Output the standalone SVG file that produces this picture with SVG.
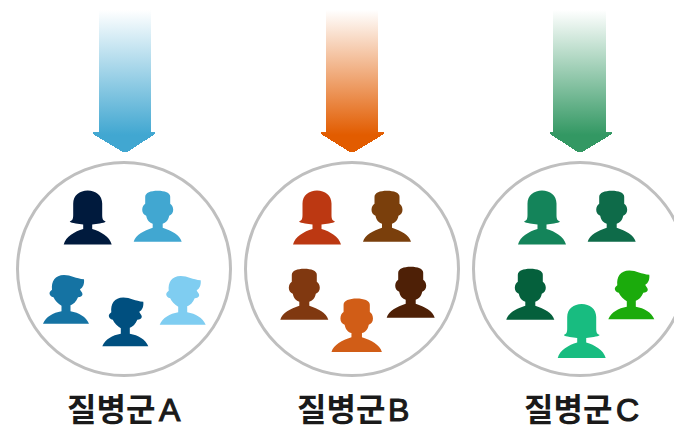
<svg xmlns="http://www.w3.org/2000/svg" width="674" height="428" viewBox="0 0 674 428">
<style>
.ring{fill:#fff;stroke:#bfbfbf;stroke-width:3}
.lbl{font-family:"Liberation Sans","Noto Sans CJK KR",sans-serif;fill:#1a1a1a;font-size:32px}
.ko{font-weight:700}
.la{stroke:#1a1a1a;stroke-width:1.100px}
.arw{shape-rendering:crispEdges}
</style>
<defs>
<linearGradient id="ga" x1="0" y1="0" x2="0" y2="1"><stop offset="0" stop-color="#fff"/><stop offset=".88" stop-color="#41a7d1"/></linearGradient>
<linearGradient id="gb" x1="0" y1="0" x2="0" y2="1"><stop offset="0" stop-color="#fff"/><stop offset=".88" stop-color="#e25c00"/></linearGradient>
<linearGradient id="gc" x1="0" y1="0" x2="0" y2="1"><stop offset="0" stop-color="#fff"/><stop offset=".88" stop-color="#339863"/></linearGradient>
<path id="woman" d="M-24 0C-22-8-13-13-4.500-15.500L-4.500-20L-12-21C-15-21.500-17-22-18-23C-15-24-14.500-26-14.500-30L-14.500-41C-14.500-49-8-54 0-54C8-54 14.500-49 14.500-41L14.500-30C14.500-26 15-24 18-23C17-22 15-21.500 12-21L4.500-20L4.500-15.500C13-13 22-8 24 0Z"/>
<path id="man" d="M-24 0C-22-7-14-11-5-14L-5-18C-8-19-10.500-21-11.500-26C-14-27-15.500-29-15.500-32C-15.500-35-14-37-12.500-38L-12.500-45C-12.500-49-7-51 0-51C7-51 12.500-49 12.500-45L12.500-38C14-37 15.500-35 15.500-32C15.500-29 14-27 11.500-26C10.500-21 8-19 5-18L5-14C14-11 22-7 24 0Z"/>
<path id="boy" d="M-23 0C-20-7-13-11-4.500-12.500L-4.500-18C-8-20-11-23-12.500-26.500C-15-27-16.500-29-16.500-30.500C-16.500-32-15-33-14-34C-15-42-11-48.700-2-48.700C5-48.700 10-45 18-44.500C18.500-40 17-36 14-34.500C14-33 16.500-32 16.500-29.500C16.500-27.500 14-26.500 12-26.500C10-22 8-20 4.500-18.500L4.500-12.500C13-11 20-7 23 0Z"/>
</defs>
<g id="connectors" class="arw">
<path d="M99 10H151V132H155V134L128 151.500Q125 152.500 122 151.500L93 134V132H99Z" fill="url(#ga)"/>
<path d="M326 10H378V132H384V134L355 151.500Q352 152.500 349 151.500L321 134V132H326Z" fill="url(#gb)"/>
<path d="M553 10H606V132H612V134L583 151.500Q580 152.500 577 151.500L550 134V132H553Z" fill="url(#gc)"/>
</g>
<g id="group-a">
<circle class="ring" cx="124" cy="269" r="106.500"/>
<use href="#woman" transform="translate(87.700 244.500)" fill="#001a3d"/>
<use href="#man" transform="translate(157.700 241.800)" fill="#41a7d1"/>
<use href="#boy" transform="translate(66 323.800)" fill="#1573a3"/>
<use href="#boy" transform="translate(125.300 346.200)" fill="#004f7f"/>
<use href="#boy" transform="translate(182.700 324.800)" fill="#7fcdf1"/>
<text class="lbl" y="421"><tspan class="ko" x="67">질병군</tspan> <tspan class="la" x="159">A</tspan></text>
</g>
<g id="group-b">
<circle class="ring" cx="352" cy="269" r="106.500"/>
<use href="#woman" transform="translate(317 244.500)" fill="#bc3812"/>
<use href="#man" transform="translate(387 241.800)" fill="#7a3f0c"/>
<use href="#man" transform="translate(304.300 319.800)" fill="#803810"/>
<use href="#man" transform="translate(410.700 317.800)" fill="#4e2006"/>
<use href="#man" transform="translate(356.700 352) scale(1.050)" fill="#d15d17"/>
<text class="lbl" y="421"><tspan class="ko" x="297">질병군</tspan> <tspan class="la" x="388">B</tspan></text>
</g>
<g id="group-c">
<circle class="ring" cx="580" cy="269" r="106.500"/>
<use href="#woman" transform="translate(542 244.500)" fill="#14845a"/>
<use href="#man" transform="translate(611.700 241.800)" fill="#0e6b49"/>
<use href="#man" transform="translate(530.300 319.800)" fill="#05603c"/>
<use href="#boy" transform="translate(631.300 319.200)" fill="#1bab0c"/>
<use href="#woman" transform="translate(581.700 358)" fill="#18bc80"/>
<text class="lbl" y="421"><tspan class="ko" x="524">질병군</tspan> <tspan class="la" x="616">C</tspan></text>
</g>
</svg>
